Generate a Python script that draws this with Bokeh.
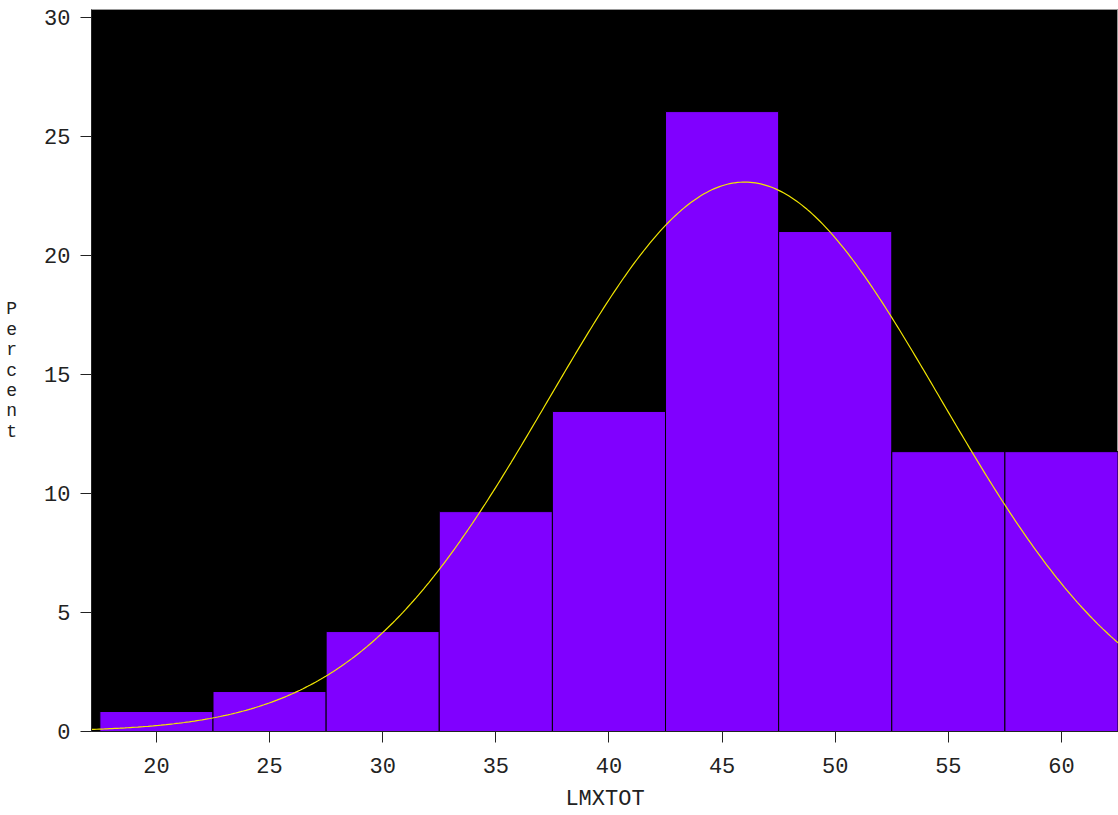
import numpy as np
from bokeh.plotting import figure
from bokeh.models import ColumnDataSource, FixedTicker, Range1d
from bokeh.embed import file_html
from bokeh.resources import INLINE

# Histogram of LMXTOT (percent per bin, bin width 5)
bin_mid = [20, 25, 30, 35, 40, 45, 50, 55, 60]
percent = [0.84, 1.68, 4.20, 9.24, 13.45, 26.05, 21.01, 11.76, 11.76]
bin_width = 5

# fitted normal curve parameters
fit_mean = 46.0
fit_sd = 8.64

x_ticks = [20, 25, 30, 35, 40, 45, 50, 55, 60]
y_ticks = [0, 5, 10, 15, 20, 25, 30]

FONT = "Liberation Mono"

p = figure(width=1118, height=815, output_backend="svg", toolbar_location=None,
           x_range=Range1d(17.13, 62.52), y_range=Range1d(0, 30.34))
p.min_border_left = 91
p.min_border_right = 0
p.min_border_top = 9
p.min_border_bottom = 84

p.background_fill_color = "black"
p.border_fill_color = "white"
p.outline_line_color = "#999999"
p.xgrid.visible = False
p.ygrid.visible = False

src = ColumnDataSource(dict(x=bin_mid, top=percent))
p.vbar(x="x", top="top", bottom=0, width=bin_width, source=src,
       fill_color="#8000FF", line_color="black", line_width=1)

xs = np.linspace(17.13, 62.52, 400)
ys = 100 * bin_width * np.exp(-0.5 * ((xs - fit_mean) / fit_sd) ** 2) / (fit_sd * np.sqrt(2 * np.pi))
p.line(xs, ys, line_color="#F2E600", line_width=1.2)

for ax in (p.xaxis[0], p.yaxis[0]):
    ax.axis_line_color = "#222222"
    ax.major_tick_line_color = "#222222"
    ax.major_tick_out = 11
    ax.major_tick_in = 0
    ax.minor_tick_out = 0
    ax.minor_tick_in = 0
    ax.major_label_text_font = FONT
    ax.major_label_text_font_size = "22px"
    ax.major_label_text_color = "#222222"
    ax.axis_label_text_font = FONT
    ax.axis_label_text_font_style = "normal"
    ax.axis_label_text_color = "#222222"

p.xaxis.ticker = FixedTicker(ticks=x_ticks)
p.yaxis.ticker = FixedTicker(ticks=y_ticks)
p.xaxis.major_label_standoff = 15
p.yaxis.major_label_standoff = 10
p.xaxis.axis_label = "LMXTOT"
p.xaxis.axis_label_text_font_size = "22px"
p.xaxis.axis_label_standoff = 11
p.yaxis.axis_label = "P\ne\nr\nc\ne\nn\nt"
p.yaxis.axis_label_text_font_size = "18px"
p.yaxis.axis_label_orientation = "horizontal"
p.yaxis.axis_label_standoff = 24
p.yaxis.axis_label_text_line_height = 1.02

open("out.html", "w").write(file_html(p, INLINE))
